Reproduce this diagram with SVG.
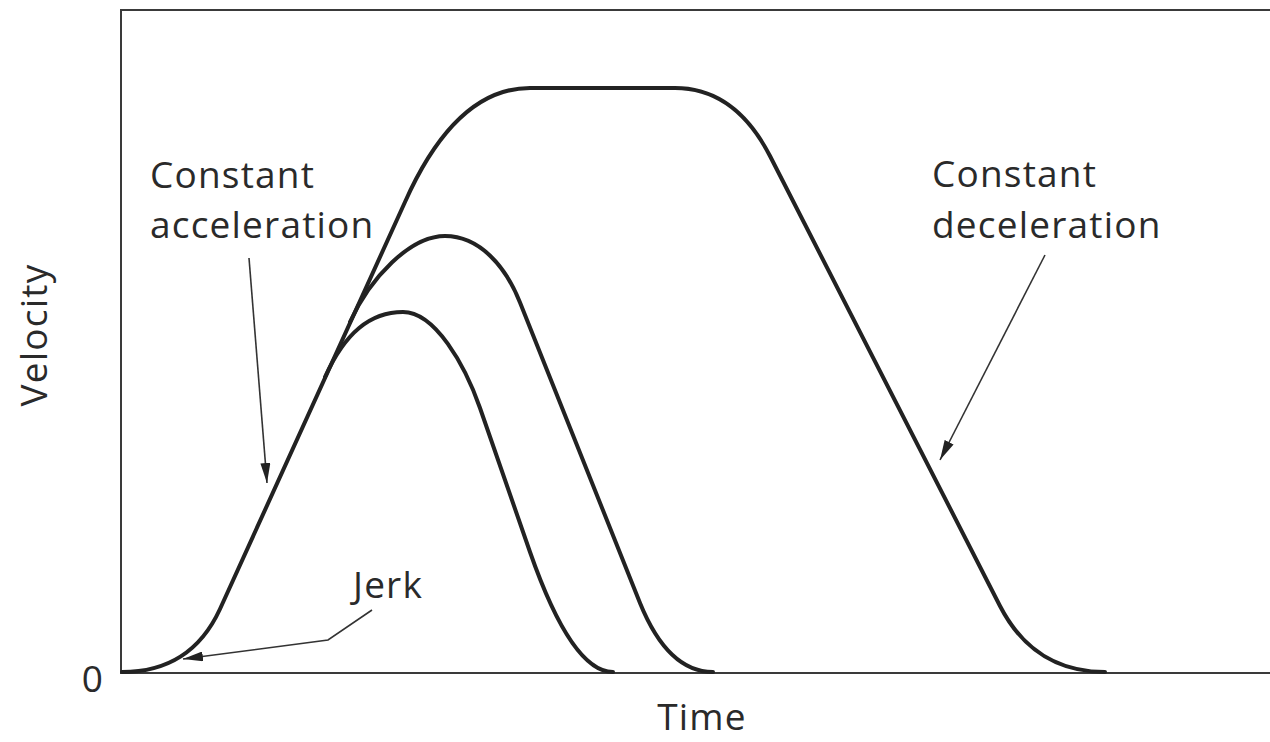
<svg xmlns="http://www.w3.org/2000/svg" width="1270" height="742" viewBox="0 0 1270 742">
  <style>
    .frame { fill: none; stroke: #3a3a3a; stroke-width: 2; }
    .curve { fill: none; stroke: #222; stroke-width: 4; stroke-linejoin: round; stroke-linecap: round; }
    .lead { fill: none; stroke: #333; stroke-width: 1.6; }
    .lbl { font-family: "Open Sans", "Noto Sans", sans-serif; font-size: 37px; letter-spacing: 1.2px; fill: #2a2a2a; }
  </style>
  <defs>
    <marker id="arrow" viewBox="0 0 20 10" refX="20" refY="5" markerWidth="20" markerHeight="10" markerUnits="userSpaceOnUse" orient="auto">
      <path d="M0,0 L20,5 L0,10 Z" fill="#222"/>
    </marker>
  </defs>
  <rect width="1270" height="742" fill="#fff"/>
  <g id="axes">
    <path class="frame" d="M1270,10 L121,10 L121,673 L1270,673"/>
  </g>
  <g id="curves">
    <path id="curve-large" class="curve" d="M122,672 Q191,672 220,609 L405,202 Q456,88 530,88 L675,88 Q735,88 770,156 L1000,606 Q1034,672 1105,672"/>
    <path id="curve-medium" class="curve" d="M350,322 C370,278 410,236 445,236 C480,236 506,267 520,302.5 L640,603 Q668,672 713,672"/>
    <path id="curve-small" class="curve" d="M325,377 C345,333 370,312 403,312 C435,312 465,365 480,408 L530,552 Q572,672 613,672"/>
  </g>
  <g id="connectors">
    <path class="lead" d="M249,258 L267,483" marker-end="url(#arrow)"/>
    <path class="lead" d="M1045,255 L940,460" marker-end="url(#arrow)"/>
    <path class="lead" d="M372,610 L328,640 L183,659" marker-end="url(#arrow)"/>
  </g>
  <g id="label-accel">
    <text class="lbl" x="150" y="188">Constant</text>
    <text class="lbl" x="150" y="238">acceleration</text>
  </g>
  <g id="label-decel">
    <text class="lbl" x="932" y="187">Constant</text>
    <text class="lbl" x="932" y="238">deceleration</text>
  </g>
  <g id="label-jerk">
    <text class="lbl" x="353" y="598">Jerk</text>
  </g>
  <g id="label-zero">
    <text class="lbl" x="93" y="692" text-anchor="middle">0</text>
  </g>
  <g id="label-time">
    <text class="lbl" x="702" y="730" text-anchor="middle">Time</text>
  </g>
  <g id="label-velocity">
    <text class="lbl" transform="translate(47,335) rotate(-90)" text-anchor="middle">Velocity</text>
  </g>
</svg>
